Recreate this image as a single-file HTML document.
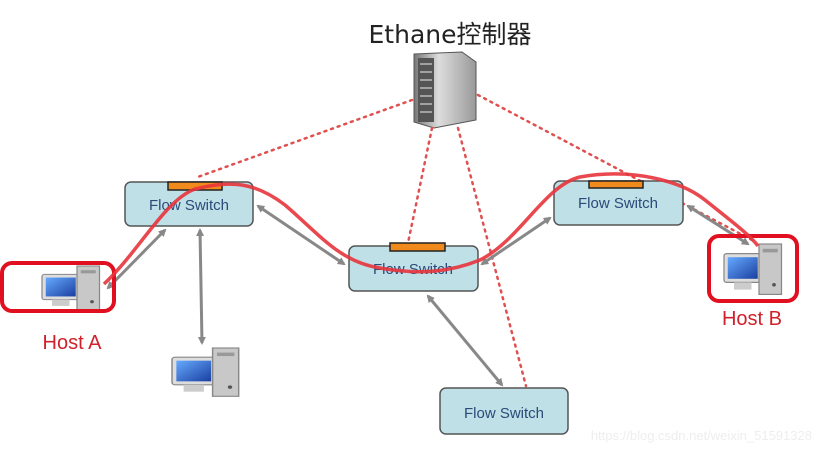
<!DOCTYPE html>
<html><head><meta charset="utf-8"><style>
body{margin:0;background:#fff;width:815px;height:447px;overflow:hidden}
</style></head><body>
<svg width="815" height="447" xmlns="http://www.w3.org/2000/svg" font-family="Liberation Sans, DejaVu Sans, sans-serif">
<defs>
<marker id="ah" markerWidth="8" markerHeight="8" refX="6" refY="4" orient="auto" markerUnits="userSpaceOnUse"><path d="M0,0 L8,4 L0,8 z" fill="#888"/></marker>
<marker id="as" markerWidth="8" markerHeight="8" refX="2" refY="4" orient="auto" markerUnits="userSpaceOnUse"><path d="M8,0 L0,4 L8,8 z" fill="#888"/></marker>
<linearGradient id="srv" x1="0" x2="1"><stop offset="0" stop-color="#777"/><stop offset="0.4" stop-color="#ddd"/><stop offset="1" stop-color="#999"/></linearGradient>
<linearGradient id="scr" x1="0" y1="0" x2="1" y2="1"><stop offset="0" stop-color="#6af"/><stop offset="1" stop-color="#1a3fa0"/></linearGradient>
<g id="pc">
<rect x="0" y="8" width="30" height="24" rx="2" fill="#ddd" stroke="#888"/>
<rect x="3" y="11" width="24" height="18" fill="url(#scr)"/>
<rect x="8" y="32" width="14" height="6" fill="#ccc"/>
<rect x="28" y="0" width="18" height="42" fill="#c8c8c8" stroke="#888"/>
<rect x="31" y="4" width="12" height="3" fill="#999"/>
<circle cx="40" cy="34" r="1.5" fill="#555"/>
</g>
</defs>
<text x="450" y="43" text-anchor="middle" font-size="25" fill="#222" font-family="DejaVu Sans, Noto Sans CJK SC, sans-serif">Ethane控制器</text>
<path d="M414,54 L462,52 L476,62 L476,120 L434,128 L414,122 z" fill="url(#srv)" stroke="#555"/>
<rect x="418" y="58" width="16" height="64" fill="#555"/>
<g stroke="#bbb" stroke-width="1.5"><line x1="420" y1="64" x2="432" y2="64"/><line x1="420" y1="72" x2="432" y2="72"/><line x1="420" y1="80" x2="432" y2="80"/><line x1="420" y1="88" x2="432" y2="88"/><line x1="420" y1="96" x2="432" y2="96"/><line x1="420" y1="104" x2="432" y2="104"/><line x1="420" y1="112" x2="432" y2="112"/></g>
<g stroke="#e05050" stroke-width="2.5" stroke-dasharray="2,5" fill="none" stroke-linecap="round">
<line x1="412" y1="100" x2="195" y2="178"/>
<line x1="432" y1="128" x2="408" y2="243"/>
<line x1="458" y1="128" x2="526" y2="386"/>
<line x1="478" y1="95" x2="752" y2="240"/>
</g>
<g stroke="#888" stroke-width="3" marker-end="url(#ah)" marker-start="url(#as)">
<line x1="108" y1="288" x2="165" y2="230"/>
<line x1="200" y1="230" x2="202" y2="343"/>
<line x1="258" y1="206" x2="344" y2="264"/>
<line x1="482" y1="264" x2="550" y2="218"/>
<line x1="428" y1="296" x2="502" y2="385"/>
<line x1="688" y1="206" x2="748" y2="244"/>
</g>
<g stroke="#555" stroke-width="1.5" fill="#bfe0e6">
<rect x="125" y="182" width="128" height="44" rx="6"/>
<rect x="349" y="246" width="129" height="45" rx="6"/>
<rect x="554" y="181" width="129" height="44" rx="6"/>
<rect x="440" y="388" width="128" height="46" rx="6"/>
</g>
<g fill="#f08a1c" stroke="#222" stroke-width="1.5">
<rect x="168" y="182" width="54" height="8"/>
<rect x="390" y="243" width="55" height="8"/>
<rect x="589" y="181" width="54" height="7"/>
</g>
<g font-size="15" fill="#2a4a7a" text-anchor="middle">
<text x="189" y="210">Flow Switch</text>
<text x="413" y="274">Flow Switch</text>
<text x="618" y="208">Flow Switch</text>
<text x="504" y="418">Flow Switch</text>
</g>
<use href="#pc" transform="translate(42,266) scale(1.25,1.05)"/>
<use href="#pc" transform="translate(724,244) scale(1.25,1.2)"/>
<use href="#pc" transform="translate(172,348) scale(1.45,1.15)"/>
<rect x="2" y="263" width="112" height="48" rx="10" fill="none" stroke="#e01020" stroke-width="4"/>
<rect x="709" y="236" width="88" height="65" rx="10" fill="none" stroke="#e01020" stroke-width="4"/>
<text x="72" y="349" text-anchor="middle" font-size="20" fill="#d0202a">Host A</text>
<text x="752" y="325" text-anchor="middle" font-size="20" fill="#d0202a">Host B</text>
<path d="M104,284 C140,250 165,200 195,189 C230,180 255,182 285,205 C320,235 340,262 380,268 C420,275 450,272 480,260 C520,240 545,185 580,177 C630,168 680,180 705,200 C730,220 750,235 758,246" fill="none" stroke="#e8343c" stroke-width="3.5" opacity="0.9"/>
<text x="812" y="440" text-anchor="end" font-size="13" fill="#eee">https://blog.csdn.net/weixin_51591328</text>
</svg>
</body></html>
